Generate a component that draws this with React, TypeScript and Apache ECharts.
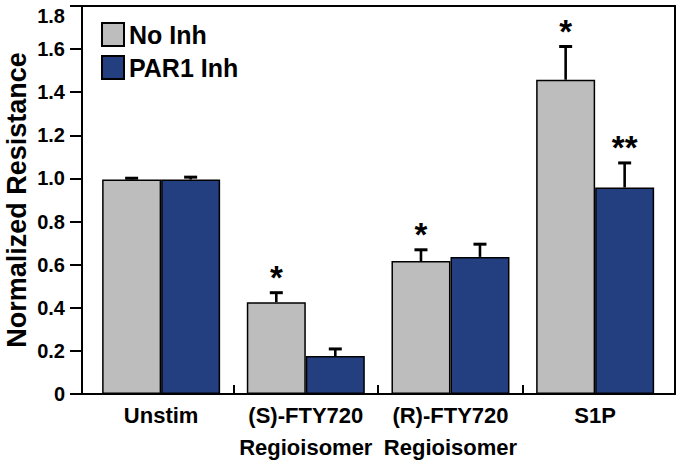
import React, { useEffect, useRef } from "react";
import * as echarts from "echarts";

const categories = ["Unstim", "(S)-FTY720\nRegioisomer", "(R)-FTY720\nRegioisomer", "S1P"];
const seriesNames = ["No Inh", "PAR1 Inh"];
const noInhValues = [0.995, 0.426, 0.617, 1.458];
const noInhUpper = [1.001, 0.47, 0.669, 1.612];
const par1Values = [0.995, 0.176, 0.636, 0.958];
const par1Upper = [1.006, 0.209, 0.695, 1.072];
const noInhStars = ["", "*", "*", "*"];
const par1Stars = ["", "", "", "**"];
const yTicks = [0, 0.2, 0.4, 0.6, 0.8, 1.0, 1.2, 1.4, 1.6, 1.8];

const GRAY = "#bdbdbd";
const BLUE = "#233f80";
const FONT = "'Liberation Sans', Arial, sans-serif";
const BAR_W = 59;

export default function App() {
  const ref = useRef<HTMLDivElement>(null);
  useEffect(() => {
    document.body.style.margin = "0";
    const chart = echarts.init(ref.current!, null, { renderer: "svg" });
    const barData = (vals: number[]) => vals.map((v, i) => [i, v]);
    const errData = (vals: number[], up: number[], stars: string[]) =>
      vals.map((v, i) => [i, v, up[i], stars[i]]);
    const errSeries = (name: string, vals: number[], up: number[], stars: string[], off: number) => ({
      type: "custom",
      name: name + " err",
      xAxisIndex: 0,
      yAxisIndex: 0,
      z: 5,
      silent: true,
      data: errData(vals, up, stars),
      renderItem: (params: any, api: any) => {
        const x = api.value(0);
        const y = api.value(1);
        const hi = api.value(2);
        const star = stars[params.dataIndex];
        const p0 = api.coord([x, y]);
        const p1 = api.coord([x, hi]);
        const px = p0[0] + off;
        const children: any[] = [
          { type: "line", shape: { x1: px, y1: p0[1], x2: px, y2: p1[1] }, style: { stroke: "#000", lineWidth: 2.6 } },
          { type: "line", shape: { x1: px - 6.5, y1: p1[1], x2: px + 6.5, y2: p1[1] }, style: { stroke: "#000", lineWidth: 3 } },
        ];
        if (star) {
          children.push({
            type: "text",
            style: {
              text: star,
              x: px,
              y: p1[1] - 15,
              align: "center",
              verticalAlign: "middle",
              fontSize: 33,
              fontWeight: "bold",
              fontFamily: FONT,
              fill: "#000",
            },
          });
        }
        return { type: "group", children };
      },
    });

    const option: any = {
      animation: false,
      backgroundColor: "#ffffff",
      grid: { left: 82, right: 5, top: 6, bottom: 75, containLabel: false, outerBoundsMode: "none" },
      legend: {
        data: seriesNames,
        orient: "vertical",
        left: 101,
        top: 22,
        padding: 0,
        itemWidth: 22,
        itemHeight: 23,
        itemGap: 8,
        icon: "rect",
        textStyle: { fontSize: 25, fontWeight: "bold", fontFamily: FONT, color: "#000" },
      },
      xAxis: [
        {
          type: "value",
          min: -0.547,
          max: 3.552,
          position: "bottom",
          axisLine: { show: true, onZero: false, lineStyle: { color: "#000", width: 2 } },
          axisTick: { show: true, inside: true, length: 9, customValues: [0.5, 1.5, 2.5], lineStyle: { color: "#000", width: 2 } },
          axisLabel: {
            show: true,
            customValues: [0, 1, 2, 3],
            formatter: (v: number) => categories[Math.round(v)],
            margin: 5,
            fontSize: 22,
            lineHeight: 32,
            fontWeight: "bold",
            fontFamily: FONT,
            color: "#000",
          },
          splitLine: { show: false },
        },
        {
          type: "value",
          min: 0,
          max: 1,
          position: "top",
          axisLine: { show: true, onZero: false, lineStyle: { color: "#000", width: 2 } },
          axisTick: { show: false },
          axisLabel: { show: false },
          splitLine: { show: false },
        },
      ],
      yAxis: [
        {
          type: "value",
          min: 0,
          max: 1.8,
          interval: 0.2,
          position: "left",
          name: "Normalized Resistance",
          nameLocation: "middle",
          nameGap: 52,
          nameMoveOverlap: false,
          nameTextStyle: { fontSize: 27, fontWeight: "bold", fontFamily: FONT, color: "#000" },
          axisLine: { show: true, onZero: false, lineStyle: { color: "#000", width: 2 } },
          axisTick: { show: true, inside: false, length: 12, lineStyle: { color: "#000", width: 2 } },
          axisLabel: {
            margin: 17,
            fontSize: 20,
            fontWeight: "bold",
            fontFamily: FONT,
            color: "#000",
            customValues: yTicks,
            verticalAlignMaxLabel: "top",
            formatter: (v: number) => (v === 0 ? "0" : v.toFixed(1)),
          },
          splitLine: { show: false },
        },
        {
          type: "value",
          min: 0,
          max: 1.8,
          position: "right",
          axisLine: { show: true, onZero: false, lineStyle: { color: "#000", width: 2 } },
          axisTick: { show: false },
          axisLabel: { show: false },
          splitLine: { show: false },
        },
      ],
      series: [
        {
          type: "bar",
          name: seriesNames[0],
          data: barData(noInhValues),
          barWidth: BAR_W,
          barGap: "0%",
          itemStyle: { color: GRAY, borderColor: "#000", borderWidth: 1.5 },
        },
        {
          type: "bar",
          name: seriesNames[1],
          data: barData(par1Values),
          barWidth: BAR_W,
          barGap: "0%",
          itemStyle: { color: BLUE, borderColor: "#000", borderWidth: 1.5 },
        },
        errSeries(seriesNames[0], noInhValues, noInhUpper, noInhStars, -BAR_W / 2),
        errSeries(seriesNames[1], par1Values, par1Upper, par1Stars, BAR_W / 2),
      ],
    };
    chart.setOption(option);
    return () => chart.dispose();
  }, []);
  return <div ref={ref} style={{ width: 680, height: 469 }} />;
}
